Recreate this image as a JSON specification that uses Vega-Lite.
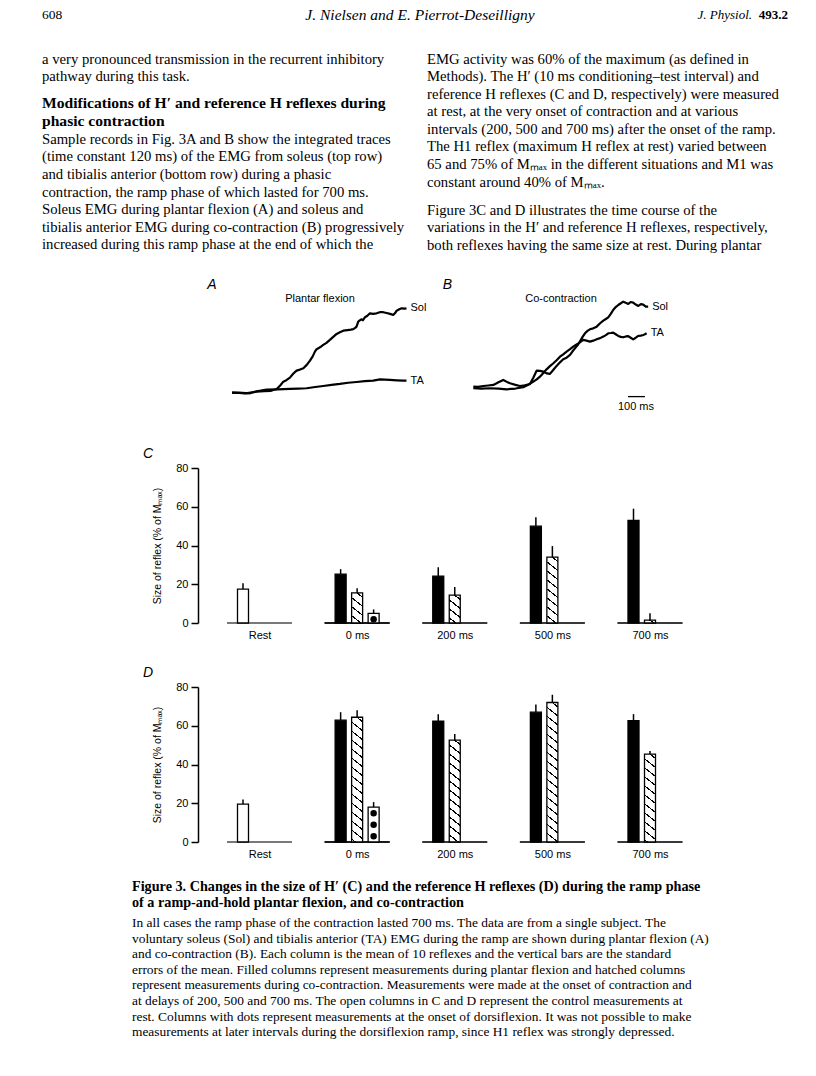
{
  "$schema": "https://vega.github.io/schema/vega-lite/v6.json",
  "padding": {"left": 42, "top": 0, "right": 0, "bottom": 0},
  "background": "white",
  "params": [
    {"name": "hatchStops", "value": [
      {"offset": 0, "color": "white"},
      {"offset": 0.021, "color": "white"}, {"offset": 0.021, "color": "black"}, {"offset": 0.029, "color": "black"}, {"offset": 0.029, "color": "white"},
      {"offset": 0.071, "color": "white"}, {"offset": 0.071, "color": "black"}, {"offset": 0.079, "color": "black"}, {"offset": 0.079, "color": "white"},
      {"offset": 0.121, "color": "white"}, {"offset": 0.121, "color": "black"}, {"offset": 0.129, "color": "black"}, {"offset": 0.129, "color": "white"},
      {"offset": 0.171, "color": "white"}, {"offset": 0.171, "color": "black"}, {"offset": 0.179, "color": "black"}, {"offset": 0.179, "color": "white"},
      {"offset": 0.221, "color": "white"}, {"offset": 0.221, "color": "black"}, {"offset": 0.229, "color": "black"}, {"offset": 0.229, "color": "white"},
      {"offset": 0.271, "color": "white"}, {"offset": 0.271, "color": "black"}, {"offset": 0.279, "color": "black"}, {"offset": 0.279, "color": "white"},
      {"offset": 0.321, "color": "white"}, {"offset": 0.321, "color": "black"}, {"offset": 0.329, "color": "black"}, {"offset": 0.329, "color": "white"},
      {"offset": 0.371, "color": "white"}, {"offset": 0.371, "color": "black"}, {"offset": 0.379, "color": "black"}, {"offset": 0.379, "color": "white"},
      {"offset": 0.421, "color": "white"}, {"offset": 0.421, "color": "black"}, {"offset": 0.429, "color": "black"}, {"offset": 0.429, "color": "white"},
      {"offset": 0.471, "color": "white"}, {"offset": 0.471, "color": "black"}, {"offset": 0.479, "color": "black"}, {"offset": 0.479, "color": "white"},
      {"offset": 0.521, "color": "white"}, {"offset": 0.521, "color": "black"}, {"offset": 0.529, "color": "black"}, {"offset": 0.529, "color": "white"},
      {"offset": 0.571, "color": "white"}, {"offset": 0.571, "color": "black"}, {"offset": 0.579, "color": "black"}, {"offset": 0.579, "color": "white"},
      {"offset": 0.621, "color": "white"}, {"offset": 0.621, "color": "black"}, {"offset": 0.629, "color": "black"}, {"offset": 0.629, "color": "white"},
      {"offset": 0.671, "color": "white"}, {"offset": 0.671, "color": "black"}, {"offset": 0.679, "color": "black"}, {"offset": 0.679, "color": "white"},
      {"offset": 0.721, "color": "white"}, {"offset": 0.721, "color": "black"}, {"offset": 0.729, "color": "black"}, {"offset": 0.729, "color": "white"},
      {"offset": 0.771, "color": "white"}, {"offset": 0.771, "color": "black"}, {"offset": 0.779, "color": "black"}, {"offset": 0.779, "color": "white"},
      {"offset": 0.821, "color": "white"}, {"offset": 0.821, "color": "black"}, {"offset": 0.829, "color": "black"}, {"offset": 0.829, "color": "white"},
      {"offset": 0.871, "color": "white"}, {"offset": 0.871, "color": "black"}, {"offset": 0.879, "color": "black"}, {"offset": 0.879, "color": "white"},
      {"offset": 0.921, "color": "white"}, {"offset": 0.921, "color": "black"}, {"offset": 0.929, "color": "black"}, {"offset": 0.929, "color": "white"},
      {"offset": 0.971, "color": "white"}, {"offset": 0.971, "color": "black"}, {"offset": 0.979, "color": "black"}, {"offset": 0.979, "color": "white"},
      {"offset": 1, "color": "white"}
    ]}
  ],
  "config": {
    "view": {"stroke": null},
    "font": "Liberation Sans",
    "axis": {"labelColor": "black", "titleColor": "black", "domainColor": "black", "tickColor": "black", "grid": false, "labelFont": "Liberation Sans", "titleFont": "Liberation Sans", "labelFontSize": 11},
    "title": {"color": "black"}
  },
  "datasets": {
    "header": [
      {"item": "page", "part": "number", "text": "608"},
      {"item": "authors", "part": "running head", "text": "J. Nielsen and E. Pierrot-Deseilligny"},
      {"item": "journal", "part": "name", "text": "J. Physiol."},
      {"item": "journal", "part": "volume", "text": "493.2"}
    ],
    "body": [
      {"col": "left", "para": 1, "line": 1, "text": "a very pronounced transmission in the recurrent inhibitory"},
      {"col": "left", "para": 1, "line": 2, "text": "pathway during this task."},
      {"col": "left", "para": 2, "line": 3, "text": "Modifications of H′ and reference H reflexes during"},
      {"col": "left", "para": 2, "line": 4, "text": "phasic contraction"},
      {"col": "left", "para": 3, "line": 5, "text": "Sample records in Fig. 3A and B show the integrated traces"},
      {"col": "left", "para": 3, "line": 6, "text": "(time constant 120 ms) of the EMG from soleus (top row)"},
      {"col": "left", "para": 3, "line": 7, "text": "and tibialis anterior (bottom row) during a phasic"},
      {"col": "left", "para": 3, "line": 8, "text": "contraction, the ramp phase of which lasted for 700 ms."},
      {"col": "left", "para": 3, "line": 9, "text": "Soleus EMG during plantar flexion (A) and soleus and"},
      {"col": "left", "para": 3, "line": 10, "text": "tibialis anterior EMG during co-contraction (B) progressively"},
      {"col": "left", "para": 3, "line": 11, "text": "increased during this ramp phase at the end of which the"},
      {"col": "right", "para": 4, "line": 1, "text": "EMG activity was 60% of the maximum (as defined in"},
      {"col": "right", "para": 4, "line": 2, "text": "Methods). The H′ (10 ms conditioning–test interval) and"},
      {"col": "right", "para": 4, "line": 3, "text": "reference H reflexes (C and D, respectively) were measured"},
      {"col": "right", "para": 4, "line": 4, "text": "at rest, at the very onset of contraction and at various"},
      {"col": "right", "para": 4, "line": 5, "text": "intervals (200, 500 and 700 ms) after the onset of the ramp."},
      {"col": "right", "para": 4, "line": 6, "text": "The H1 reflex (maximum H reflex at rest) varied between"},
      {"col": "right", "para": 4, "line": 7, "text": "65 and 75% of Mₘₐₓ in the different situations and M1 was"},
      {"col": "right", "para": 4, "line": 8, "text": "constant around 40% of Mₘₐₓ."},
      {"col": "right", "para": 5, "line": 9, "text": "Figure 3C and D illustrates the time course of the"},
      {"col": "right", "para": 5, "line": 10, "text": "variations in the H′ and reference H reflexes, respectively,"},
      {"col": "right", "para": 5, "line": 11, "text": "both reflexes having the same size at rest. During plantar"}
    ],
    "caption": [
      {"col": "caption", "part": "title", "line": 1, "text": "Figure 3. Changes in the size of H′ (C) and the reference H reflexes (D) during the ramp phase"},
      {"col": "caption", "part": "title", "line": 2, "text": "of a ramp-and-hold plantar flexion, and co-contraction"},
      {"col": "caption", "part": "legend", "line": 3, "text": "In all cases the ramp phase of the contraction lasted 700 ms. The data are from a single subject. The"},
      {"col": "caption", "part": "legend", "line": 4, "text": "voluntary soleus (Sol) and tibialis anterior (TA) EMG during the ramp are shown during plantar flexion (A)"},
      {"col": "caption", "part": "legend", "line": 5, "text": "and co-contraction (B). Each column is the mean of 10 reflexes and the vertical bars are the standard"},
      {"col": "caption", "part": "legend", "line": 6, "text": "errors of the mean. Filled columns represent measurements during plantar flexion and hatched columns"},
      {"col": "caption", "part": "legend", "line": 7, "text": "represent measurements during co-contraction. Measurements were made at the onset of contraction and"},
      {"col": "caption", "part": "legend", "line": 8, "text": "at delays of 200, 500 and 700 ms. The open columns in C and D represent the control measurements at"},
      {"col": "caption", "part": "legend", "line": 9, "text": "rest. Columns with dots represent measurements at the onset of dorsiflexion. It was not possible to make"},
      {"col": "caption", "part": "legend", "line": 10, "text": "measurements at later intervals during the dorsiflexion ramp, since H1 reflex was strongly depressed."}
    ],
    "traceNotes": [
      {"panel": "A", "text": "A"},
      {"panel": "B", "text": "B"}
    ],
    "scaleBar": [
      {"t": 912, "t2": 1012, "label": "100 ms"}
    ],
    "traceA": [
      {"series": "Sol", "t": 0, "v": 0.4}, {"series": "Sol", "t": 40, "v": 0}, {"series": "Sol", "t": 80, "v": -0.5}, {"series": "Sol", "t": 110, "v": 0.5},
      {"series": "Sol", "t": 145, "v": 1.5}, {"series": "Sol", "t": 190, "v": 2.2}, {"series": "Sol", "t": 230, "v": 2.5}, {"series": "Sol", "t": 263, "v": 4.7},
      {"series": "Sol", "t": 285, "v": 9}, {"series": "Sol", "t": 302, "v": 13.3}, {"series": "Sol", "t": 320, "v": 15}, {"series": "Sol", "t": 341, "v": 18},
      {"series": "Sol", "t": 360, "v": 22.5}, {"series": "Sol", "t": 380, "v": 26.3}, {"series": "Sol", "t": 400, "v": 27.5}, {"series": "Sol", "t": 420, "v": 29},
      {"series": "Sol", "t": 440, "v": 33}, {"series": "Sol", "t": 459, "v": 38}, {"series": "Sol", "t": 475, "v": 43}, {"series": "Sol", "t": 488, "v": 48.6},
      {"series": "Sol", "t": 498, "v": 51.5}, {"series": "Sol", "t": 508, "v": 52.5}, {"series": "Sol", "t": 520, "v": 54}, {"series": "Sol", "t": 537, "v": 56.5},
      {"series": "Sol", "t": 556, "v": 59}, {"series": "Sol", "t": 576, "v": 62.4}, {"series": "Sol", "t": 596, "v": 66}, {"series": "Sol", "t": 616, "v": 69.4},
      {"series": "Sol", "t": 635, "v": 71.5}, {"series": "Sol", "t": 655, "v": 73.3}, {"series": "Sol", "t": 680, "v": 74}, {"series": "Sol", "t": 700, "v": 74.5},
      {"series": "Sol", "t": 714, "v": 75}, {"series": "Sol", "t": 725, "v": 76.5}, {"series": "Sol", "t": 733, "v": 78}, {"series": "Sol", "t": 738, "v": 81},
      {"series": "Sol", "t": 743, "v": 84}, {"series": "Sol", "t": 750, "v": 85}, {"series": "Sol", "t": 763, "v": 86.7}, {"series": "Sol", "t": 770, "v": 85.5},
      {"series": "Sol", "t": 782, "v": 89}, {"series": "Sol", "t": 795, "v": 90.5}, {"series": "Sol", "t": 812, "v": 93.7}, {"series": "Sol", "t": 830, "v": 93},
      {"series": "Sol", "t": 851, "v": 93.7}, {"series": "Sol", "t": 870, "v": 95}, {"series": "Sol", "t": 890, "v": 95}, {"series": "Sol", "t": 910, "v": 94},
      {"series": "Sol", "t": 930, "v": 93}, {"series": "Sol", "t": 949, "v": 91.8}, {"series": "Sol", "t": 960, "v": 94}, {"series": "Sol", "t": 969, "v": 96.8},
      {"series": "Sol", "t": 985, "v": 98.5}, {"series": "Sol", "t": 998, "v": 99.6}, {"series": "Sol", "t": 1015, "v": 99.2}, {"series": "Sol", "t": 1027, "v": 99.6},
      {"series": "TA", "t": 0, "v": 0.4}, {"series": "TA", "t": 60, "v": 0}, {"series": "TA", "t": 106, "v": -0.4}, {"series": "TA", "t": 145, "v": 2},
      {"series": "TA", "t": 204, "v": 3.9}, {"series": "TA", "t": 270, "v": 4.3}, {"series": "TA", "t": 341, "v": 4.7}, {"series": "TA", "t": 390, "v": 5},
      {"series": "TA", "t": 439, "v": 5.5}, {"series": "TA", "t": 490, "v": 7}, {"series": "TA", "t": 537, "v": 8.2}, {"series": "TA", "t": 586, "v": 9.5},
      {"series": "TA", "t": 635, "v": 10.6}, {"series": "TA", "t": 684, "v": 12}, {"series": "TA", "t": 733, "v": 12.9}, {"series": "TA", "t": 782, "v": 13.8},
      {"series": "TA", "t": 831, "v": 14.5}, {"series": "TA", "t": 871, "v": 16}, {"series": "TA", "t": 900, "v": 15.6}, {"series": "TA", "t": 929, "v": 15.3},
      {"series": "TA", "t": 970, "v": 14.8}, {"series": "TA", "t": 1008, "v": 14.5}, {"series": "TA", "t": 1027, "v": 14.5}
    ],
    "traceB": [
      {"series": "Sol", "t": 2, "v": 7.5}, {"series": "Sol", "t": 30, "v": 7.2}, {"series": "Sol", "t": 61, "v": 8.2}, {"series": "Sol", "t": 90, "v": 8.8},
      {"series": "Sol", "t": 120, "v": 9.4}, {"series": "Sol", "t": 150, "v": 12.5}, {"series": "Sol", "t": 178, "v": 15.3}, {"series": "Sol", "t": 200, "v": 13},
      {"series": "Sol", "t": 218, "v": 11.4}, {"series": "Sol", "t": 250, "v": 9.5}, {"series": "Sol", "t": 276, "v": 8.2}, {"series": "Sol", "t": 305, "v": 9},
      {"series": "Sol", "t": 335, "v": 10.6}, {"series": "Sol", "t": 355, "v": 18}, {"series": "Sol", "t": 375, "v": 26.3}, {"series": "Sol", "t": 395, "v": 26},
      {"series": "Sol", "t": 414, "v": 25.1}, {"series": "Sol", "t": 435, "v": 23}, {"series": "Sol", "t": 453, "v": 22.4}, {"series": "Sol", "t": 472, "v": 27},
      {"series": "Sol", "t": 492, "v": 31.8}, {"series": "Sol", "t": 512, "v": 36}, {"series": "Sol", "t": 531, "v": 39.6}, {"series": "Sol", "t": 551, "v": 41.5},
      {"series": "Sol", "t": 571, "v": 44.7}, {"series": "Sol", "t": 586, "v": 49}, {"series": "Sol", "t": 600, "v": 52.5}, {"series": "Sol", "t": 615, "v": 56},
      {"series": "Sol", "t": 629, "v": 60.4}, {"series": "Sol", "t": 645, "v": 66}, {"series": "Sol", "t": 659, "v": 70.2}, {"series": "Sol", "t": 674, "v": 73},
      {"series": "Sol", "t": 688, "v": 74.9}, {"series": "Sol", "t": 708, "v": 76}, {"series": "Sol", "t": 728, "v": 78}, {"series": "Sol", "t": 748, "v": 82},
      {"series": "Sol", "t": 767, "v": 85.1}, {"series": "Sol", "t": 782, "v": 87}, {"series": "Sol", "t": 796, "v": 89}, {"series": "Sol", "t": 811, "v": 93},
      {"series": "Sol", "t": 825, "v": 97.6}, {"series": "Sol", "t": 840, "v": 101}, {"series": "Sol", "t": 855, "v": 103.5}, {"series": "Sol", "t": 870, "v": 105.5},
      {"series": "Sol", "t": 884, "v": 107.4}, {"series": "Sol", "t": 899, "v": 106}, {"series": "Sol", "t": 914, "v": 104.7}, {"series": "Sol", "t": 928, "v": 107},
      {"series": "Sol", "t": 943, "v": 106.3}, {"series": "Sol", "t": 958, "v": 104}, {"series": "Sol", "t": 973, "v": 102.4}, {"series": "Sol", "t": 988, "v": 104.5},
      {"series": "Sol", "t": 1002, "v": 103.9}, {"series": "Sol", "t": 1017, "v": 101.5}, {"series": "Sol", "t": 1031, "v": 101.6},
      {"series": "TA", "t": 2, "v": 5.5}, {"series": "TA", "t": 50, "v": 5}, {"series": "TA", "t": 100, "v": 5.5}, {"series": "TA", "t": 150, "v": 5},
      {"series": "TA", "t": 198, "v": 4.3}, {"series": "TA", "t": 250, "v": 5.2}, {"series": "TA", "t": 296, "v": 6.7}, {"series": "TA", "t": 325, "v": 9.5},
      {"series": "TA", "t": 355, "v": 13.3}, {"series": "TA", "t": 375, "v": 16}, {"series": "TA", "t": 394, "v": 19.2}, {"series": "TA", "t": 414, "v": 23.5},
      {"series": "TA", "t": 433, "v": 27.8}, {"series": "TA", "t": 453, "v": 31.5}, {"series": "TA", "t": 473, "v": 34.9}, {"series": "TA", "t": 492, "v": 38.5},
      {"series": "TA", "t": 512, "v": 42.7}, {"series": "TA", "t": 531, "v": 45.5}, {"series": "TA", "t": 551, "v": 48.6}, {"series": "TA", "t": 571, "v": 51.5},
      {"series": "TA", "t": 590, "v": 54.5}, {"series": "TA", "t": 605, "v": 56.5}, {"series": "TA", "t": 620, "v": 58.4}, {"series": "TA", "t": 635, "v": 60.5},
      {"series": "TA", "t": 649, "v": 62.4}, {"series": "TA", "t": 668, "v": 61.5}, {"series": "TA", "t": 688, "v": 60.4}, {"series": "TA", "t": 708, "v": 61.5},
      {"series": "TA", "t": 728, "v": 63.1}, {"series": "TA", "t": 748, "v": 64.5}, {"series": "TA", "t": 767, "v": 66.3}, {"series": "TA", "t": 782, "v": 68},
      {"series": "TA", "t": 796, "v": 70.2}, {"series": "TA", "t": 811, "v": 70.5}, {"series": "TA", "t": 825, "v": 70.9}, {"series": "TA", "t": 840, "v": 69},
      {"series": "TA", "t": 855, "v": 67.1}, {"series": "TA", "t": 870, "v": 66}, {"series": "TA", "t": 884, "v": 65.5}, {"series": "TA", "t": 900, "v": 66.5},
      {"series": "TA", "t": 914, "v": 66.8}, {"series": "TA", "t": 928, "v": 65}, {"series": "TA", "t": 943, "v": 63.1}, {"series": "TA", "t": 958, "v": 65},
      {"series": "TA", "t": 973, "v": 67.1}, {"series": "TA", "t": 988, "v": 67.5}, {"series": "TA", "t": 1002, "v": 68.2}, {"series": "TA", "t": 1012, "v": 69},
      {"series": "TA", "t": 1022, "v": 70.2}
    ],
    "reflex": [
      {"panel": "C", "interval": "Rest", "condition": "rest", "value": 17.5, "upper": 20.5},
      {"panel": "C", "interval": "0 ms", "condition": "plantar flexion", "value": 25.2, "upper": 27.8},
      {"panel": "C", "interval": "0 ms", "condition": "co-contraction", "value": 15.5, "upper": 18},
      {"panel": "C", "interval": "0 ms", "condition": "dorsiflexion", "value": 5, "upper": 7},
      {"panel": "C", "interval": "200 ms", "condition": "plantar flexion", "value": 24.2, "upper": 28.8},
      {"panel": "C", "interval": "200 ms", "condition": "co-contraction", "value": 14.4, "upper": 18.6},
      {"panel": "C", "interval": "500 ms", "condition": "plantar flexion", "value": 50, "upper": 54.6},
      {"panel": "C", "interval": "500 ms", "condition": "co-contraction", "value": 34, "upper": 39.7},
      {"panel": "C", "interval": "700 ms", "condition": "plantar flexion", "value": 53, "upper": 59},
      {"panel": "C", "interval": "700 ms", "condition": "co-contraction", "value": 1.5, "upper": 5},
      {"panel": "D", "interval": "Rest", "condition": "rest", "value": 19.6, "upper": 22},
      {"panel": "D", "interval": "0 ms", "condition": "plantar flexion", "value": 62.9, "upper": 67},
      {"panel": "D", "interval": "0 ms", "condition": "co-contraction", "value": 64.4, "upper": 68},
      {"panel": "D", "interval": "0 ms", "condition": "dorsiflexion", "value": 18, "upper": 20.6},
      {"panel": "D", "interval": "200 ms", "condition": "plantar flexion", "value": 62.4, "upper": 65.9},
      {"panel": "D", "interval": "200 ms", "condition": "co-contraction", "value": 52.6, "upper": 55.7},
      {"panel": "D", "interval": "500 ms", "condition": "plantar flexion", "value": 67, "upper": 71},
      {"panel": "D", "interval": "500 ms", "condition": "co-contraction", "value": 72, "upper": 76},
      {"panel": "D", "interval": "700 ms", "condition": "plantar flexion", "value": 62.6, "upper": 66},
      {"panel": "D", "interval": "700 ms", "condition": "co-contraction", "value": 45.4, "upper": 47}
    ]
  },
  "spacing": 64,
  "bounds": "flush",
  "vconcat": [
    {
      "width": 746,
      "height": 30,
      "data": {"name": "header"},
      "encoding": {
        "x": {"field": "item", "type": "nominal", "scale": {"type": "point", "domain": ["page", "authors", "journal"], "padding": 0}, "axis": null},
        "text": {"field": "text"}
      },
      "layer": [
        {"transform": [{"filter": "datum.item == 'page'"}], "mark": {"type": "text", "align": "left", "baseline": "middle", "font": "Liberation Serif", "fontSize": 13.5, "color": "black"}},
        {"transform": [{"filter": "datum.item == 'authors'"}], "mark": {"type": "text", "align": "center", "baseline": "middle", "font": "Liberation Serif", "fontStyle": "italic", "fontSize": 15.5, "dx": 5, "color": "black"}},
        {"transform": [{"filter": "datum.part == 'name'"}], "mark": {"type": "text", "align": "right", "baseline": "middle", "font": "Liberation Serif", "fontStyle": "italic", "fontSize": 13, "dx": -36, "color": "black"}},
        {"transform": [{"filter": "datum.part == 'volume'"}], "mark": {"type": "text", "align": "right", "baseline": "middle", "font": "Liberation Serif", "fontWeight": "bold", "fontSize": 13, "color": "black"}}
      ]
    },
    {
      "width": 746,
      "height": 144,
      "data": {"name": "body"},
      "encoding": {
        "x": {"field": "col", "type": "nominal", "scale": {"type": "band", "domain": ["left", "right"], "range": [0, 770], "paddingInner": 0, "paddingOuter": 0}, "axis": null, "bandPosition": 0},
        "y": {"field": "line", "type": "quantitative", "scale": {"domain": [2.9429, 11.1714], "reverse": true, "nice": false, "zero": false}, "axis": null},
        "text": {"field": "text"}
      },
      "layer": [
        {"transform": [{"filter": "datum.para == 1 || datum.para == 4"}], "mark": {"type": "text", "align": "left", "baseline": "middle", "font": "Liberation Serif", "fontSize": 14.7, "color": "black"}},
        {"transform": [{"filter": "datum.para == 2"}], "mark": {"type": "text", "align": "left", "baseline": "middle", "font": "Liberation Serif", "fontSize": 15.6, "fontWeight": "bold", "dy": 8.5, "color": "black"}},
        {"transform": [{"filter": "datum.para == 3"}], "mark": {"type": "text", "align": "left", "baseline": "middle", "font": "Liberation Serif", "fontSize": 14.7, "dy": 10, "color": "black"}},
        {"transform": [{"filter": "datum.para == 5"}], "mark": {"type": "text", "align": "left", "baseline": "middle", "font": "Liberation Serif", "fontSize": 14.7, "dy": 10.5, "color": "black"}}
      ]
    },
    {
      "width": 746,
      "height": 102,
      "resolve": {"scale": {"x": "independent"}, "axis": {"x": "independent"}},
      "layer": [
        {
          "data": {"name": "traceA"},
          "mark": {"type": "line", "color": "black", "strokeWidth": 2.2, "strokeJoin": "round"},
          "encoding": {
            "x": {"field": "t", "type": "quantitative", "scale": {"domain": [0, 1030], "range": [190, 365], "nice": false, "zero": false}, "axis": {"orient": "top", "domain": false, "ticks": false, "labels": false, "grid": false, "title": "Plantar flexion", "titleFontSize": 11, "titleFontWeight": "normal", "titlePadding": 1, "titleBaseline": "alphabetic"}},
            "y": {"field": "v", "type": "quantitative", "scale": {"domain": [-13, 107], "nice": false, "zero": false}, "axis": null},
            "detail": {"field": "series"}
          }
        },
        {
          "data": {"name": "traceA"},
          "transform": [
            {"joinaggregate": [{"op": "max", "field": "t", "as": "tmax"}], "groupby": ["series"]},
            {"filter": "datum.t == datum.tmax"}
          ],
          "mark": {"type": "text", "align": "left", "baseline": "middle", "dx": 4, "fontSize": 11, "font": "Liberation Sans", "color": "black"},
          "encoding": {
            "x": {"field": "t", "type": "quantitative", "scale": {"domain": [0, 1030], "range": [190, 365], "nice": false, "zero": false}, "axis": null},
            "y": {"field": "v", "type": "quantitative", "scale": {"domain": [-13, 107], "nice": false, "zero": false}, "axis": null},
            "text": {"field": "series"}
          }
        },
        {
          "data": {"name": "traceNotes"},
          "transform": [{"filter": "datum.panel == 'A'"}],
          "mark": {"type": "text", "align": "center", "baseline": "middle", "fontSize": 14, "fontStyle": "italic", "font": "Liberation Sans", "color": "black"},
          "encoding": {
            "x": {"datum": -118, "type": "quantitative", "scale": {"domain": [0, 1030], "range": [190, 365], "nice": false, "zero": false}, "axis": null},
            "y": {"datum": 127, "type": "quantitative", "scale": {"domain": [-13, 107], "nice": false, "zero": false}, "axis": null},
            "text": {"field": "text"}
          }
        },
        {
          "data": {"name": "traceB"},
          "mark": {"type": "line", "color": "black", "strokeWidth": 2.2, "strokeJoin": "round"},
          "encoding": {
            "x": {"field": "t", "type": "quantitative", "scale": {"domain": [0, 1030], "range": [431, 606], "nice": false, "zero": false}, "axis": {"orient": "top", "domain": false, "ticks": false, "labels": false, "grid": false, "title": "Co-contraction", "titleFontSize": 11, "titleFontWeight": "normal", "titlePadding": 1, "titleBaseline": "alphabetic"}},
            "y": {"field": "v", "type": "quantitative", "scale": {"domain": [-13, 107], "nice": false, "zero": false}, "axis": null},
            "detail": {"field": "series"}
          }
        },
        {
          "data": {"name": "traceB"},
          "transform": [
            {"joinaggregate": [{"op": "max", "field": "t", "as": "tmax"}], "groupby": ["series"]},
            {"filter": "datum.t == datum.tmax"}
          ],
          "mark": {"type": "text", "align": "left", "baseline": "middle", "dx": 4, "fontSize": 11, "font": "Liberation Sans", "color": "black"},
          "encoding": {
            "x": {"field": "t", "type": "quantitative", "scale": {"domain": [0, 1030], "range": [431, 606], "nice": false, "zero": false}, "axis": null},
            "y": {"field": "v", "type": "quantitative", "scale": {"domain": [-13, 107], "nice": false, "zero": false}, "axis": null},
            "text": {"field": "series"}
          }
        },
        {
          "data": {"name": "traceNotes"},
          "transform": [{"filter": "datum.panel == 'B'"}],
          "mark": {"type": "text", "align": "center", "baseline": "middle", "fontSize": 14, "fontStyle": "italic", "font": "Liberation Sans", "color": "black"},
          "encoding": {
            "x": {"datum": -150, "type": "quantitative", "scale": {"domain": [0, 1030], "range": [431, 606], "nice": false, "zero": false}, "axis": null},
            "y": {"datum": 127, "type": "quantitative", "scale": {"domain": [-13, 107], "nice": false, "zero": false}, "axis": null},
            "text": {"field": "text"}
          }
        },
        {
          "data": {"name": "scaleBar"},
          "mark": {"type": "rule", "color": "black", "strokeWidth": 1.3},
          "encoding": {
            "x": {"field": "t", "type": "quantitative", "scale": {"domain": [0, 1030], "range": [431, 606], "nice": false, "zero": false}, "axis": null},
            "x2": {"field": "t2"},
            "y": {"datum": -4.3, "type": "quantitative", "scale": {"domain": [-13, 107], "nice": false, "zero": false}, "axis": null}
          }
        },
        {
          "data": {"name": "scaleBar"},
          "mark": {"type": "text", "align": "left", "baseline": "middle", "dx": -10, "fontSize": 11, "font": "Liberation Sans", "color": "black"},
          "encoding": {
            "x": {"field": "t", "type": "quantitative", "scale": {"domain": [0, 1030], "range": [431, 606], "nice": false, "zero": false}, "axis": null},
            "y": {"datum": -16.3, "type": "quantitative", "scale": {"domain": [-13, 107], "nice": false, "zero": false}, "axis": null},
            "text": {"field": "label"}
          }
        }
      ]
    },
    {
      "width": 746,
      "height": 155,
      "data": {"name": "reflex"},
      "transform": [{"filter": "datum.panel == 'C'"}],
      "title": {"text": "C", "anchor": "start", "frame": "group", "dx": 101, "dy": 12.5, "offset": 2.5, "font": "Liberation Sans", "fontStyle": "italic", "fontWeight": "normal", "fontSize": 14, "baseline": "alphabetic"},
      "encoding": {
        "x": {"field": "interval", "type": "nominal", "scale": {"type": "point", "domain": ["Rest", "0 ms", "200 ms", "500 ms", "700 ms"], "range": [217.5, 608], "padding": 0}, "axis": {"title": null, "domain": false, "ticks": false, "tickSize": 0, "labelPadding": 6, "labelFontSize": 11, "labelAngle": 0}},
        "y": {"field": "value", "type": "quantitative", "scale": {"domain": [0, 80], "nice": false}, "axis": {"offset": -156, "values": [0, 20, 40, 60, 80], "title": "Size of reflex (% of Mₘₐₓ)", "titleFontSize": 10.5, "titleFontWeight": "normal", "titlePadding": 13, "tickSize": 7, "tickWidth": 1.5, "domainWidth": 1.5, "labelFontSize": 11, "labelPadding": 3}}
      },
      "layer": [
        {"mark": {"type": "tick", "size": 65, "thickness": 1.5, "color": "black"}, "encoding": {"y": {"datum": 0}}},
        {"transform": [{"filter": "datum.condition == 'rest'"}], "layer": [
          {"mark": {"type": "bar", "width": 11, "xOffset": -16.5, "fill": "white", "stroke": "black", "strokeWidth": 1.3}},
          {"mark": {"type": "rule", "xOffset": -16.5, "strokeWidth": 1.5, "color": "black"}, "encoding": {"y2": {"field": "upper"}}}
        ]},
        {"transform": [{"filter": "datum.condition == 'plantar flexion'"}], "layer": [
          {"mark": {"type": "bar", "width": 11, "xOffset": -16.5, "fill": "black", "stroke": "black", "strokeWidth": 1.3}},
          {"mark": {"type": "rule", "xOffset": -16.5, "strokeWidth": 1.5, "color": "black"}, "encoding": {"y2": {"field": "upper"}}}
        ]},
        {"transform": [{"filter": "datum.condition == 'co-contraction'"}], "layer": [
          {"mark": {"type": "bar", "width": 11, "xOffset": 0, "fill": {"expr": "{gradient: 'linear', x1: 1, y1: 0, x2: 1 - 1584/(pow(datum.value*1.9375,2)+77.44), y2: 180*datum.value*1.9375/(pow(datum.value*1.9375,2)+77.44), stops: hatchStops}"}, "stroke": "black", "strokeWidth": 1.3}},
          {"mark": {"type": "rule", "xOffset": 0, "strokeWidth": 1.5, "color": "black"}, "encoding": {"y2": {"field": "upper"}}}
        ]},
        {"transform": [{"filter": "datum.condition == 'dorsiflexion'"}], "layer": [
          {"mark": {"type": "bar", "width": 11, "xOffset": 16.5, "fill": "white", "stroke": "black", "strokeWidth": 1.3}},
          {"mark": {"type": "rule", "xOffset": 16.5, "strokeWidth": 6.5, "strokeCap": "round", "strokeDash": [0, 11.5], "strokeDashOffset": 5.5, "color": "black"}, "encoding": {"y2": {"datum": 0}}},
          {"mark": {"type": "rule", "xOffset": 16.5, "strokeWidth": 1.5, "color": "black"}, "encoding": {"y2": {"field": "upper"}}}
        ]}
      ]
    },
    {
      "width": 746,
      "height": 155,
      "data": {"name": "reflex"},
      "transform": [{"filter": "datum.panel == 'D'"}],
      "title": {"text": "D", "anchor": "start", "frame": "group", "dx": 101, "dy": 12.5, "offset": 2.5, "font": "Liberation Sans", "fontStyle": "italic", "fontWeight": "normal", "fontSize": 14, "baseline": "alphabetic"},
      "encoding": {
        "x": {"field": "interval", "type": "nominal", "scale": {"type": "point", "domain": ["Rest", "0 ms", "200 ms", "500 ms", "700 ms"], "range": [217.5, 608], "padding": 0}, "axis": {"title": null, "domain": false, "ticks": false, "tickSize": 0, "labelPadding": 6, "labelFontSize": 11, "labelAngle": 0}},
        "y": {"field": "value", "type": "quantitative", "scale": {"domain": [0, 80], "nice": false}, "axis": {"offset": -156, "values": [0, 20, 40, 60, 80], "title": "Size of reflex (% of Mₘₐₓ)", "titleFontSize": 10.5, "titleFontWeight": "normal", "titlePadding": 13, "tickSize": 7, "tickWidth": 1.5, "domainWidth": 1.5, "labelFontSize": 11, "labelPadding": 3}}
      },
      "layer": [
        {"mark": {"type": "tick", "size": 65, "thickness": 1.5, "color": "black"}, "encoding": {"y": {"datum": 0}}},
        {"transform": [{"filter": "datum.condition == 'rest'"}], "layer": [
          {"mark": {"type": "bar", "width": 11, "xOffset": -16.5, "fill": "white", "stroke": "black", "strokeWidth": 1.3}},
          {"mark": {"type": "rule", "xOffset": -16.5, "strokeWidth": 1.5, "color": "black"}, "encoding": {"y2": {"field": "upper"}}}
        ]},
        {"transform": [{"filter": "datum.condition == 'plantar flexion'"}], "layer": [
          {"mark": {"type": "bar", "width": 11, "xOffset": -16.5, "fill": "black", "stroke": "black", "strokeWidth": 1.3}},
          {"mark": {"type": "rule", "xOffset": -16.5, "strokeWidth": 1.5, "color": "black"}, "encoding": {"y2": {"field": "upper"}}}
        ]},
        {"transform": [{"filter": "datum.condition == 'co-contraction'"}], "layer": [
          {"mark": {"type": "bar", "width": 11, "xOffset": 0, "fill": {"expr": "{gradient: 'linear', x1: 1, y1: 0, x2: 1 - 1584/(pow(datum.value*1.9375,2)+77.44), y2: 180*datum.value*1.9375/(pow(datum.value*1.9375,2)+77.44), stops: hatchStops}"}, "stroke": "black", "strokeWidth": 1.3}},
          {"mark": {"type": "rule", "xOffset": 0, "strokeWidth": 1.5, "color": "black"}, "encoding": {"y2": {"field": "upper"}}}
        ]},
        {"transform": [{"filter": "datum.condition == 'dorsiflexion'"}], "layer": [
          {"mark": {"type": "bar", "width": 11, "xOffset": 16.5, "fill": "white", "stroke": "black", "strokeWidth": 1.3}},
          {"mark": {"type": "rule", "xOffset": 16.5, "strokeWidth": 6.5, "strokeCap": "round", "strokeDash": [0, 11.5], "strokeDashOffset": 5.5, "color": "black"}, "encoding": {"y2": {"datum": 0}}},
          {"mark": {"type": "rule", "xOffset": 16.5, "strokeWidth": 1.5, "color": "black"}, "encoding": {"y2": {"field": "upper"}}}
        ]}
      ]
    },
    {
      "width": 746,
      "height": 130,
      "data": {"name": "caption"},
      "encoding": {
        "x": {"field": "col", "type": "nominal", "scale": {"type": "band", "range": [90, 662], "paddingInner": 0, "paddingOuter": 0}, "axis": null, "bandPosition": 0},
        "y": {"field": "line", "type": "quantitative", "scale": {"domain": [2.2179, 10.5513], "reverse": true, "nice": false, "zero": false}, "axis": null},
        "text": {"field": "text"}
      },
      "layer": [
        {"transform": [{"filter": "datum.part == 'title'"}], "mark": {"type": "text", "align": "left", "baseline": "middle", "font": "Liberation Serif", "fontSize": 14.2, "fontWeight": "bold", "color": "black"}},
        {"transform": [{"filter": "datum.part == 'legend'"}], "mark": {"type": "text", "align": "left", "baseline": "middle", "font": "Liberation Serif", "fontSize": 13.4, "dy": 4.8, "color": "black"}}
      ]
    }
  ]
}
